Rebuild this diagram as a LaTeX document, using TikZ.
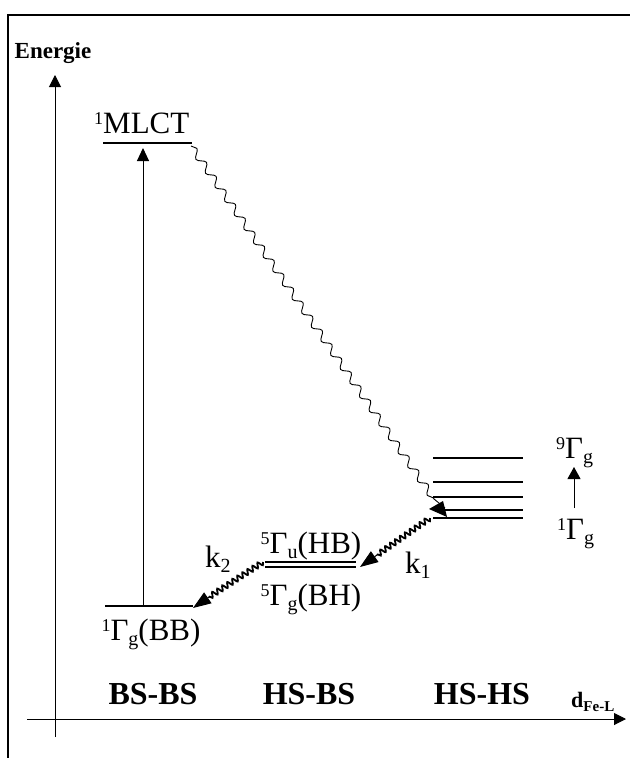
\documentclass[tikz,border=0pt]{standalone}
\usepackage{fontspec}
\setmainfont{Liberation Serif}
\usetikzlibrary{decorations.pathmorphing,arrows.meta}
\newcommand\upx[1]{\raisebox{9bp}{\fontsize{18bp}{18bp}\selectfont #1}}
\newcommand\dnx[1]{\raisebox{-5bp}{\fontsize{20bp}{20bp}\selectfont #1}}
\begin{document}
\begin{tikzpicture}[x=1bp,y=-1bp,
  lbl/.style={inner sep=0, font=\fontsize{31bp}{36bp}\selectfont},
  reg/.style={inner sep=0, font=\fontsize{32bp}{36bp}\selectfont\bfseries},
  lvl/.style={line width=1.2bp},
  ax/.style={line width=1bp, -{Triangle[length=12bp,width=12bp]}},
  thinwave/.style={line width=0.9bp, decorate, decoration={snake, segment length=17bp, amplitude=3.5bp}},
  thickwave/.style={line width=1.8bp, decorate, decoration={snake, segment length=6bp, amplitude=2.6bp}},
  tipar/.style={line width=1bp, -{Triangle[length=18bp,width=13bp]}}
]
\useasboundingbox (0,0) rectangle (630,758);
% frame
\draw[line width=1.5bp] (8,758) -- (8,15) -- (630,15);
% axes
\coordinate (yb) at (55,737); \coordinate (yt) at (55,75);
\coordinate (xl) at (27,719); \coordinate (xr) at (626,719);
\draw[ax] (yb) -- (yt);
\draw[ax] (xl) -- (xr);
\node[inner sep=0, anchor=base, font=\fontsize{23bp}{26bp}\selectfont\bfseries] (en) at (53,59) {Energie};
\node[inner sep=0, anchor=base west, font=\fontsize{22bp}{24bp}\selectfont\bfseries] (dfe) at (571,707) {d\raisebox{-4bp}{\fontsize{15bp}{15bp}\selectfont Fe-L}};
% region labels
\node[reg, anchor=base] (bsbs) at (153,704) {BS-BS};
\node[reg, anchor=base] (hsbs) at (309,704) {HS-BS};
\node[reg, anchor=base] (hshs) at (482,704) {HS-HS};
% MLCT level
\coordinate (m0) at (103,143); \coordinate (m1) at (192,143);
\draw[lvl] (m0) -- (m1);
\node[lbl, anchor=base west] (mlct) at (94,133) {\upx{1}MLCT};
% ground level
\coordinate (g0) at (105,606); \coordinate (g1) at (193,606);
\draw[lvl] (g0) -- (g1);
\node[lbl, anchor=base] (gs) at (151,640) {\upx{1}Γ\dnx{g}(BB)};
% excitation arrow
\coordinate (ea) at (143,606); \coordinate (eb) at (143,148);
\draw[line width=1bp, -{Triangle[length=13bp,width=12bp]}] (ea) -- (eb);
% HS-BS double level
\coordinate (h0) at (265,562); \coordinate (h1) at (356,562);
\coordinate (h2) at (265,567); \coordinate (h3) at (356,567);
\draw[lvl] (h0) -- (h1);
\draw[lvl] (h2) -- (h3);
\node[lbl, anchor=base] (hb) at (311,553) {\upx{5}Γ\dnx{u}(HB)};
\node[lbl, anchor=base] (bh) at (311,605) {\upx{5}Γ\dnx{g}(BH)};
% HS-HS levels
\foreach \yy [count=\i] in {458,482,497,510,518}{
  \coordinate (s\i a) at (433,\yy); \coordinate (s\i b) at (523,\yy);
  \draw[lvl] (s\i a) -- (s\i b);
}
\node[lbl, anchor=base west] (g9) at (556,458) {\upx{9}Γ\dnx{g}};
\node[lbl, anchor=base west] (g1l) at (557,539) {\upx{1}Γ\dnx{g}};
\coordinate (sa) at (574,508); \coordinate (sb) at (574,467);
\draw[line width=1bp, -{Triangle[length=12bp,width=13bp]}] (sa) -- (sb);
% MLCT relaxation wave
\coordinate (w0) at (191,146); \coordinate (w1) at (434,499);
\coordinate (wb) at (445,508);
\coordinate (wt) at (429,509); \coordinate (wu) at (443,501); \coordinate (wv) at (447,517);
\draw[thinwave] (w0) -- (w1);
\draw[line width=0.9bp] (w1) -- (wb);
\fill (wt) -- (wu) -- (wv) -- cycle;
% k1
\coordinate (k1a) at (430,518); \coordinate (k1b) at (377,555); \coordinate (k1t) at (360,567);
\draw[thickwave] (k1a) -- (k1b);
\draw[tipar] (k1b) -- (k1t);
\node[lbl, anchor=base west] (k1) at (405,573) {k\dnx{1}};
% k2
\coordinate (k2a) at (263,562); \coordinate (k2b) at (209,597); \coordinate (k2t) at (193,608);
\draw[thickwave] (k2a) -- (k2b);
\draw[tipar] (k2b) -- (k2t);
\node[lbl, anchor=base west] (k2) at (205,567) {k\dnx{2}};
\end{tikzpicture}
\end{document}
